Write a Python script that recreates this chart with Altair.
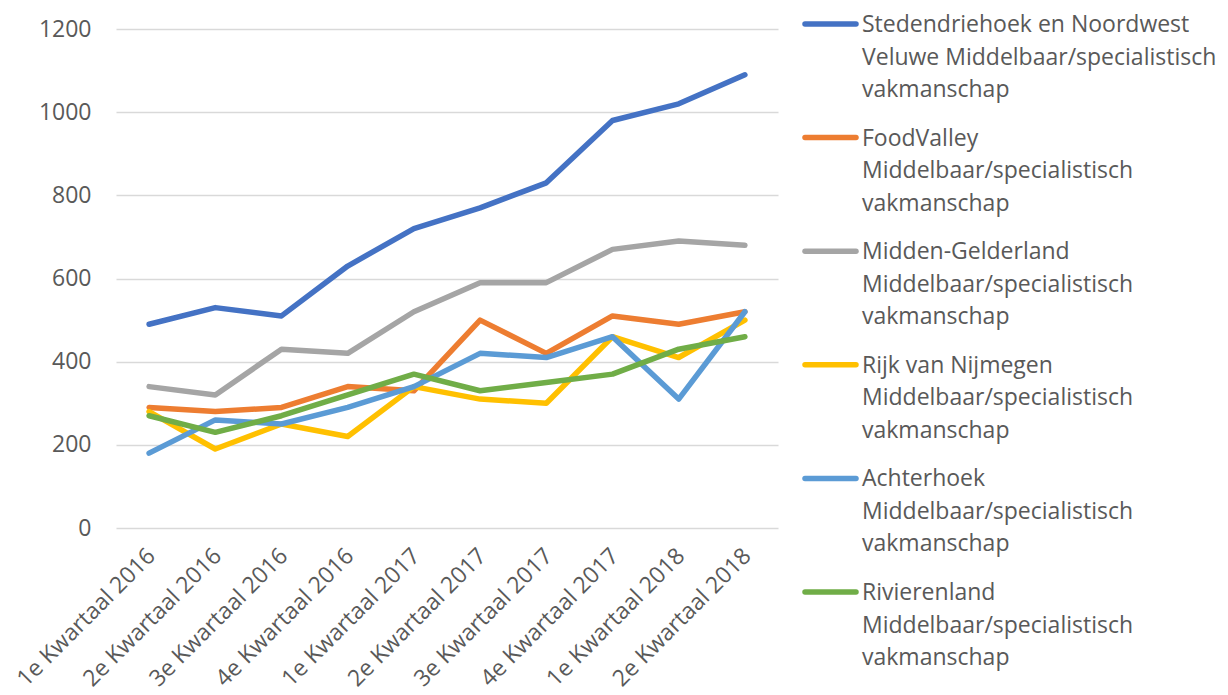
import altair as alt
import pandas as pd

quarters = ["1e Kwartaal 2016", "2e Kwartaal 2016", "3e Kwartaal 2016", "4e Kwartaal 2016",
            "1e Kwartaal 2017", "2e Kwartaal 2017", "3e Kwartaal 2017", "4e Kwartaal 2017",
            "1e Kwartaal 2018", "2e Kwartaal 2018"]

series_names = [
    "Stedendriehoek en Noordwest Veluwe Middelbaar/specialistisch vakmanschap",
    "FoodValley Middelbaar/specialistisch vakmanschap",
    "Midden-Gelderland Middelbaar/specialistisch vakmanschap",
    "Rijk van Nijmegen Middelbaar/specialistisch vakmanschap",
    "Achterhoek Middelbaar/specialistisch vakmanschap",
    "Rivierenland Middelbaar/specialistisch vakmanschap",
]
legend_labels = [
    "Stedendriehoek en Noordwest\nVeluwe Middelbaar/specialistisch\nvakmanschap",
    "FoodValley\nMiddelbaar/specialistisch\nvakmanschap",
    "Midden-Gelderland\nMiddelbaar/specialistisch\nvakmanschap",
    "Rijk van Nijmegen\nMiddelbaar/specialistisch\nvakmanschap",
    "Achterhoek\nMiddelbaar/specialistisch\nvakmanschap",
    "Rivierenland\nMiddelbaar/specialistisch\nvakmanschap",
]
colors = ["#4472C4", "#ED7D31", "#A5A5A5", "#FFC000", "#5B9BD5", "#70AD47"]

stedendriehoek = [490, 530, 510, 630, 720, 770, 830, 980, 1020, 1090]
foodvalley = [290, 280, 290, 340, 330, 500, 420, 510, 490, 520]
midden_gelderland = [340, 320, 430, 420, 520, 590, 590, 670, 690, 680]
rijk_van_nijmegen = [280, 190, 250, 220, 340, 310, 300, 460, 410, 500]
achterhoek = [180, 260, 250, 290, 340, 420, 410, 460, 310, 520]
rivierenland = [270, 230, 270, 320, 370, 330, 350, 370, 430, 460]

all_values = [stedendriehoek, foodvalley, midden_gelderland, rijk_van_nijmegen, achterhoek, rivierenland]

rows = []
for i, (s, vals) in enumerate(zip(series_names, all_values)):
    for q, v in zip(quarters, vals):
        rows.append({"series": s, "quarter": q, "value": v, "sidx": i})
df = pd.DataFrame(rows)

legend_df = pd.DataFrame({
    "series": series_names,
    "label": legend_labels,
    "idx": list(range(len(series_names))),
})

FONT = "Open Sans"
TXT = "#595959"
color_scale = alt.Scale(domain=series_names, range=colors)

lines = alt.Chart(df).mark_line(strokeWidth=5.5, strokeCap="round", strokeJoin="round").encode(
    x=alt.X("quarter:N", sort=quarters, title=None, scale=alt.Scale(padding=0.5),
            axis=alt.Axis(labelAngle=-45, labelAlign="right", labelBaseline="middle",
                          labelPadding=24, labelOffset=2, labelLimit=400, ticks=False, domain=False,
                          labelFont=FONT, labelFontSize=23, labelColor=TXT, grid=False)),
    y=alt.Y("value:Q", title=None, scale=alt.Scale(domain=[0, 1200], nice=False),
            axis=alt.Axis(values=[0, 200, 400, 600, 800, 1000, 1200], format="d",
                          ticks=False, domain=False,
                          labelPadding=25, labelFont=FONT, labelFontSize=23, labelColor=TXT,
                          gridColor="#D9D9D9", gridWidth=1.5)),
    color=alt.Color("series:N", scale=color_scale, legend=None),
    order=alt.Order("sidx:Q"),
)

legend_y = alt.Y("idx:Q", axis=None,
                 scale=alt.Scale(domain=[0, 5], range=[-5, 563], nice=False, zero=False))

leg_rules = alt.Chart(legend_df).mark_rule(strokeWidth=5.5, strokeCap="round").encode(
    x=alt.value(689), x2=alt.value(740), y=legend_y,
    color=alt.Color("series:N", scale=color_scale, legend=None),
)
leg_text = alt.Chart(legend_df).mark_text(
    align="left", baseline="alphabetic", lineBreak="\n", lineHeight=32.5,
    font=FONT, fontSize=23, color=TXT, dy=8,
).encode(x=alt.value(746), y=legend_y, text="label:N")

chart = alt.layer(lines, leg_rules, leg_text).resolve_scale(y="independent").properties(
    width=662, height=499,
    padding={"left": 108, "top": 21, "right": 440, "bottom": 164},
    autosize=alt.AutoSizeParams(type="none"),
).configure_view(stroke=None)

chart.save("out.html", embed_options={"renderer": "svg", "actions": False})
